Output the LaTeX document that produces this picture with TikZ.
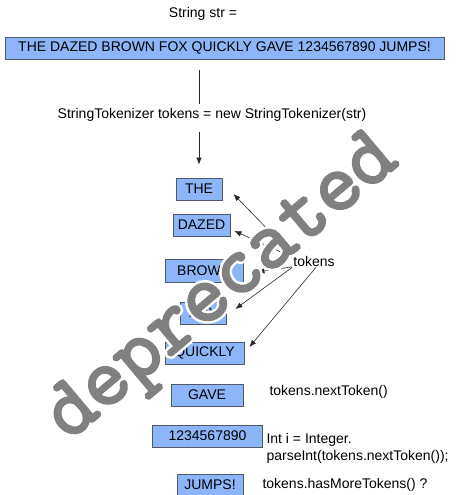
\documentclass[tikz,border=0pt]{standalone}
\usepackage{fontspec}
\setmainfont{Liberation Sans}
\newfontfamily\stempelfont{Latin Modern Mono}[FakeBold=3]
\newfontfamily\stempelhalo{Latin Modern Mono}[FakeBold=9]
\usetikzlibrary{arrows,arrows.meta}
\usetikzlibrary{calc}
\definecolor{tokblau}{RGB}{140,182,248}
\definecolor{tokrand}{RGB}{80,88,105}
\definecolor{pfeil}{RGB}{40,40,40}
\definecolor{stempel}{RGB}{128,128,128}

\begin{document}
\begin{tikzpicture}[x=1pt, y=-1pt, font=\fontsize{14}{17}\selectfont,
    tok/.style={draw=tokrand, fill=tokblau, line width=0.8pt, minimum height=22pt, inner sep=0pt},
    verb/.style={pfeil, line width=0.6pt},
    spitz/.style={-{Latex[length=7pt,width=5.5pt]}},
    stamp/.style={rotate=40}]

    \useasboundingbox (0,0) rectangle (456,495);

    \node (strdecl) at (203,14) {String str =};
    \node[tok, minimum width=439pt] (satz) at (224.5,48) {THE DAZED BROWN FOX QUICKLY GAVE 1234567890 JUMPS!};
    \node (tokenizer) at (212,115) {StringTokenizer tokens = new StringTokenizer(str)};

    \node[tok, minimum width=46pt] (the) at (199,189) {THE};
    \node[tok, minimum width=57pt] (dazed) at (201.5,225) {DAZED};
    \node[tok, minimum width=78pt, minimum height=23pt] (brown) at (204,270.5) {BROWN};
    \node[tok, minimum width=46pt] (fox) at (203,313) {FOX};
    \node[tok, minimum width=79pt] (quickly) at (204.5,353) {QUICKLY};
    \node[tok, minimum width=72pt] (gave) at (207,395) {GAVE};
    \node[tok, minimum width=110pt] (zahl) at (207.5,436) {1234567890};
    \node[tok, minimum width=66pt] (jumps) at (210,485) {JUMPS!};

    \node[inner sep=1pt] (tokens) at (314,261) {tokens};

    \node[anchor=west] (naechstes) at (266,392) {tokens.nextToken()};
    \node[anchor=north west, align=left] (parse) at (263,430) {Int i = Integer.\\parseInt(tokens.nextToken());};
    \node[anchor=west] (hasmore) at (259,485) {tokens.hasMoreTokens() ?};

    \draw[verb, shorten <=11pt, shorten >=1pt] (satz.south -| the) -- (tokenizer.north -| the);
    \draw[verb, spitz, shorten <=6.5pt, shorten >=13pt] (tokenizer.south -| the) -- (the.north);

    \draw[verb, spitz] (tokens.north west) -- ([shift={(11,5)}]the.east);
    \draw[verb, spitz] (tokens.170) -- ([shift={(4,6)}]dazed.east);
    \draw[verb, spitz] (tokens.195) -- ([shift={(14,1.5)}]brown.east);
    \draw[verb, spitz] (tokens.south west) -- ([shift={(9,-4)}]fox.east);
    \draw[verb, spitz] ([xshift=2pt]tokens.south) -- ([shift={(5,-6)}]quickly.east);

    % watermark
    \node[stamp, white, font={\stempelhalo\fontsize{84}{84}\selectfont}] at (224,290) {deprecated};
    \node[stamp, stempel, font={\stempelfont\fontsize{84}{84}\selectfont}] (stempel) at (224,290) {deprecated};

\end{tikzpicture}
\end{document}
